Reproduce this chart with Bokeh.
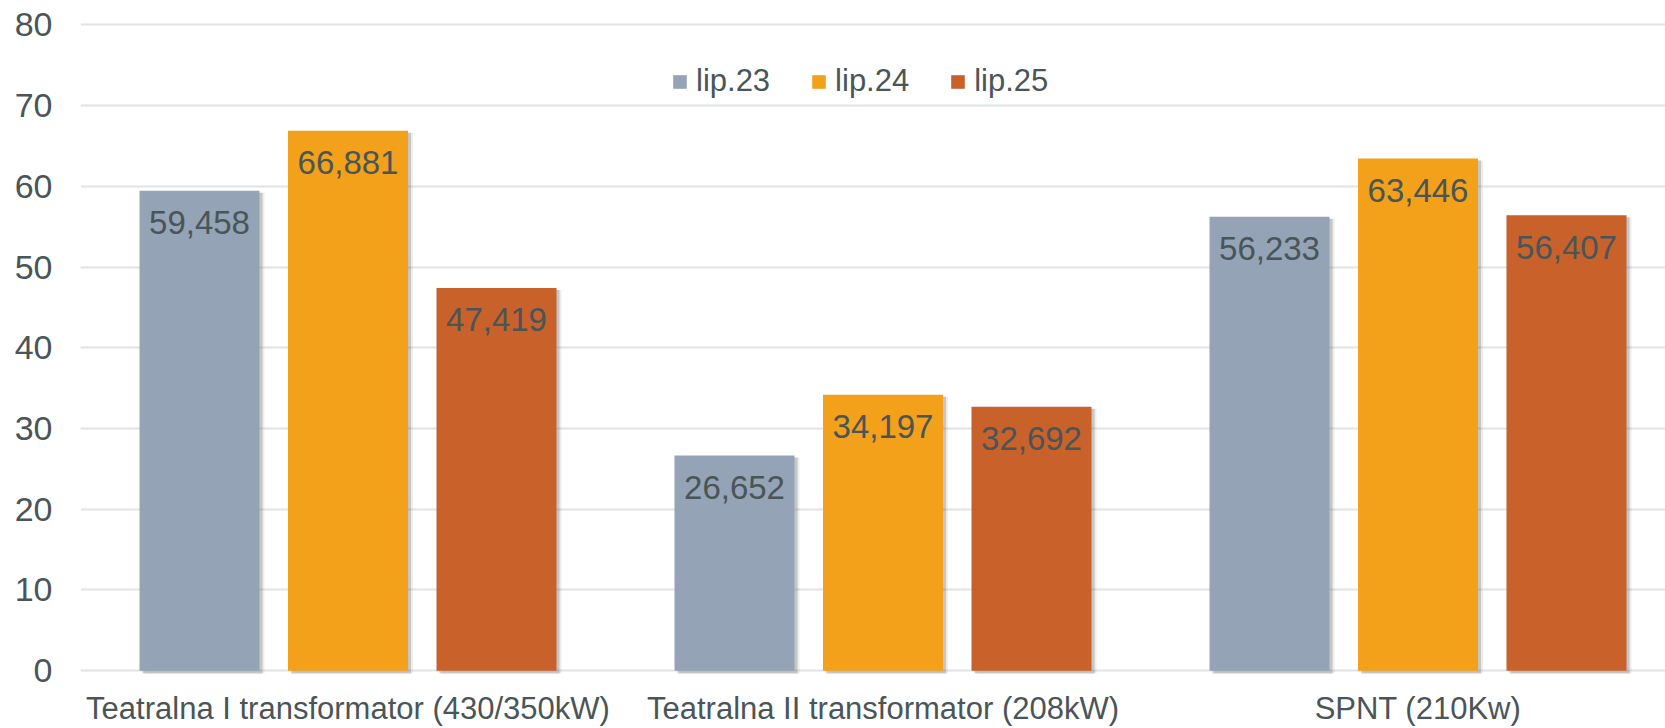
from bokeh.plotting import figure
from bokeh.models import FixedTicker, Legend, LegendItem, ColumnDataSource, Range1d
from bokeh.embed import file_html
from bokeh.resources import INLINE
from bokeh.core.properties import value

categories = ["Teatralna I transformator (430/350kW)",
              "Teatralna II transformator (208kW)",
              "SPNT (210Kw)"]
series_names = ["lip.23", "lip.24", "lip.25"]
lip23 = [59.458, 26.652, 56.233]
lip24 = [66.881, 34.197, 63.446]
lip25 = [47.419, 32.692, 56.407]
y_ticks = [0, 10, 20, 30, 40, 50, 60, 70, 80]

colors = ["#94a3b5", "#f3a01a", "#c8612a"]
text_color = "#4a5558"
FONT = "Liberation Sans"

W, H = 1665, 728
cat_px = 535.0
left = 80
frame_w = W - left
x_end = frame_w / cat_px

p = figure(width=W, height=H, output_backend="svg", toolbar_location=None,
           x_range=Range1d(0, x_end), y_range=Range1d(-0.6, 80.3),
           min_border_left=left, min_border_right=0, min_border_top=22,
           min_border_bottom=50)
p.outline_line_color = None
p.background_fill_color = "white"
p.border_fill_color = "white"

bar_w = 120.0 / cat_px
step = 148.5 / cat_px
offsets = [-step, 0.0, step]
series = [lip23, lip24, lip25]

centers = [i + 0.5 for i in range(len(categories))]

items = []
for k, (name, vals, col) in enumerate(zip(series_names, series, colors)):
    xs = [c + offsets[k] for c in centers]
    # shadow layers
    for dx, a in [(5.0, 0.12), (3.0, 0.3)]:
        p.vbar(x=[x + dx / cat_px for x in xs], top=[v - 0.25 for v in vals],
               bottom=-0.35, width=bar_w, fill_color="#6e6e6e", fill_alpha=a,
               line_color=None)
    r = p.vbar(x=xs, top=vals, bottom=0, width=bar_w, fill_color=col,
               line_color=None)
    items.append(LegendItem(label=name, renderers=[r]))
    labels = [f"{v:.3f}".replace(".", ",") for v in vals]
    src = ColumnDataSource(dict(x=xs, y=vals, t=labels))
    p.text(x="x", y="y", text="t", source=src, y_offset=32,
           text_align="center", text_baseline="middle",
           text_font=value(FONT), text_font_size="33px", text_color=text_color)

# axes
p.xaxis.ticker = FixedTicker(ticks=centers)
p.xaxis.major_label_overrides = {c: lab for c, lab in zip(centers, categories)}
p.xaxis.axis_line_color = None
p.xaxis.major_tick_line_color = None
p.xaxis.minor_tick_line_color = None
p.xaxis.major_label_standoff = 9
p.xaxis.major_label_text_font = FONT
p.xaxis.major_label_text_font_size = "31px"
p.xaxis.major_label_text_color = text_color

p.yaxis.ticker = FixedTicker(ticks=y_ticks)
p.yaxis.axis_line_color = None
p.yaxis.major_tick_line_color = None
p.yaxis.minor_tick_line_color = None
p.yaxis.major_label_standoff = 22
p.yaxis.major_label_text_font = FONT
p.yaxis.major_label_text_font_size = "34px"
p.yaxis.major_label_text_color = text_color

p.xgrid.grid_line_color = None
p.ygrid.grid_line_color = "#e0e4e4"
p.ygrid.grid_line_width = 2

legend = Legend(items=items, orientation="horizontal", location=(591, 576),
                glyph_width=17, glyph_height=17, label_standoff=8, spacing=40,
                padding=0, margin=0, border_line_alpha=0, background_fill_alpha=0,
                label_text_font=FONT, label_text_font_size="31px",
                label_text_color=text_color)
p.add_layout(legend)

open("out.html", "w").write(file_html(p, INLINE))
